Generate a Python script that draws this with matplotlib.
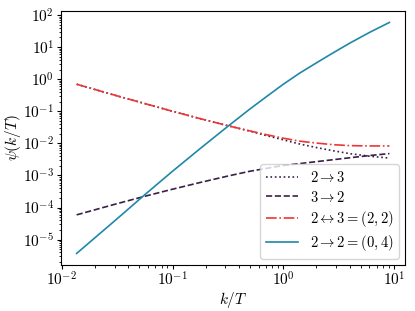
import matplotlib
matplotlib.use("Agg")
import matplotlib.pyplot as plt
from matplotlib.ticker import LogLocator

# ── data ────────────────────────────────────────────
k_over_T = [0.0136, 0.0316, 0.0562, 0.1, 0.178, 0.316, 0.5, 0.708,
            1.0, 1.41, 2.0, 2.82, 3.98, 6.03, 9.12]

psi_2to3 = [0.698, 0.302, 0.174, 0.1, 0.0589, 0.0355, 0.024, 0.0174,
            0.0129, 0.00955, 0.0074, 0.00589, 0.00479, 0.00398, 0.00347]
psi_3to2 = [5.9e-5, 1.32e-4, 2.24e-4, 3.72e-4, 6.03e-4, 9.55e-4, 1.35e-3, 1.66e-3,
            2.04e-3, 2.34e-3, 2.69e-3, 3.09e-3, 3.55e-3, 4.17e-3, 4.79e-3]
psi_22 = [0.698, 0.302, 0.174, 0.1, 0.0589, 0.0355, 0.0245, 0.0186,
          0.0145, 0.0117, 0.0102, 0.0091, 0.0085, 0.0083, 0.0083]
psi_04 = [3.7e-6, 4.47e-5, 2.51e-4, 1.35e-3, 6.9e-3, 0.0339, 0.1175, 0.288,
          0.692, 1.55, 3.24, 6.61, 13.2, 28.8, 58.9]

labels = [r"$2 \rightarrow 3$", r"$3 \rightarrow 2$",
          r"$2 \leftrightarrow 3 = (2,2)$", r"$2 \rightarrow 2 = (0,4)$"]

# ── style ───────────────────────────────────────────
plt.rcParams["font.family"] = "serif"
plt.rcParams["font.serif"] = ["cmr10"]
plt.rcParams["mathtext.fontset"] = "cm"
plt.rcParams["axes.formatter.use_mathtext"] = True
plt.rcParams["font.size"] = 11

purple = "#3b1f47"
red = "#ee3535"
teal = "#1f88a8"

fig = plt.figure(figsize=(4.15, 3.11), dpi=100)
ax = fig.add_axes([0.147, 0.148, 0.829, 0.817])

ax.loglog(k_over_T, psi_2to3, ls=":", color=purple, lw=1.2, label=labels[0])
ax.loglog(k_over_T, psi_3to2, ls="--", color=purple, lw=1.2, label=labels[1])
ax.loglog(k_over_T, psi_22, ls="-.", color=red, lw=1.2, label=labels[2])
ax.loglog(k_over_T, psi_04, ls="-", color=teal, lw=1.2, label=labels[3])

# every decade gets a label, as in the reference
ax.yaxis.set_major_locator(LogLocator(base=10, numticks=20))
ax.yaxis.set_minor_locator(LogLocator(base=10, subs=range(2, 10), numticks=20))

ax.tick_params(which="major", length=3, labelsize=11)
ax.tick_params(which="minor", length=1.8)
ax.tick_params(axis="x", which="major", pad=1)
ax.tick_params(axis="y", which="major", pad=2)
ax.set_xlabel(r"$k/T$", labelpad=1)
ax.set_ylabel(r"$\psi(k/T)$", labelpad=0)
ax.legend(loc="lower right", fontsize=10.5, borderaxespad=0.4,
          labelspacing=0.3, handlelength=2.2)

fig.savefig("out.png", dpi=100)
